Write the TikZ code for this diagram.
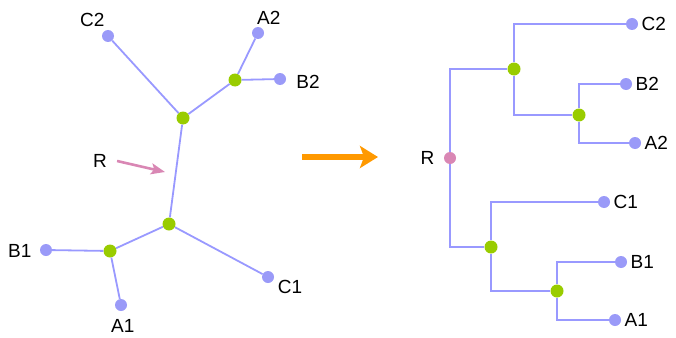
\documentclass[tikz,border=0pt]{standalone}
\usepackage{fontspec}
\setmainfont{Liberation Sans}
\usetikzlibrary{arrows.meta}
\definecolor{edgeblue}{HTML}{9999FF}
\definecolor{leafblue}{HTML}{9A9AF8}
\definecolor{innergreen}{HTML}{99CC00}
\definecolor{rootpink}{HTML}{D987B4}
\definecolor{arroworange}{HTML}{FF9900}
\tikzstyle{vertex}=[circle, inner sep=0pt, minimum size=12pt, label distance=1pt]
\tikzstyle{leaf}=[vertex, fill=leafblue]
\tikzstyle{inner}=[vertex, fill=innergreen, minimum size=13pt]
\tikzstyle{root}=[vertex, fill=rootpink]
\tikzstyle{edge}=[draw=edgeblue, line width=1.8pt]
\tikzstyle{tag}=[anchor=center, inner sep=0pt]

\begin{document}
\begin{tikzpicture}[x=1pt, y=-1pt, font=\fontsize{19}{22}\selectfont]
        \useasboundingbox (0, 0) rectangle (676, 337);
        % unrooted tree
        \node[inner]                        (u1) at (183, 118) {};
        \node[inner]                        (u2) at (235, 80) {};
        \node[inner]                        (l1) at (169, 224) {};
        \node[inner]                        (l2) at (110, 251) {};
        \node[leaf, label={[tag, label distance=16pt]135:C2}] (uC2) at (108, 36) {};
        \node[leaf, label={[tag, label distance=12pt]54:A2}]  (uA2) at (258, 33) {};
        \node[leaf, label={[tag, label distance=22pt]-6:B2}]  (uB2) at (280, 79) {};
        \node[leaf, label={[tag, label distance=20pt]182:B1}] (uB1) at (46, 250) {};
        \node[leaf, label={[tag, label distance=15pt]-85:A1}] (uA1) at (121, 305) {};
        \node[leaf, label={[tag, label distance=18pt]-24:C1}] (uC1) at (268, 277) {};
        \node[tag]                          (uR) at (100, 161) {R};
        \coordinate                         (uRtip) at (165, 172);
        \draw[edge] (uC2) -- (u1) -- (u2) -- (uA2);
        \draw[edge] (u2) -- (uB2);
        \draw[edge] (u1) -- (l1) -- (l2) -- (uB1);
        \draw[edge] (l2) -- (uA1);
        \draw[edge] (l1) -- (uC1);
        \draw[rootpink, line width=2.6pt, -{Stealth[length=14pt, width=11pt, inset=3pt]}]
            (uR.east) ++(10, 0) -- (uRtip);
        % arrow between
        \coordinate (from) at (302, 157);
        \coordinate (to) at (378, 157);
        \draw[arroworange, line width=6pt, -{Stealth[length=18pt, width=22pt, inset=4pt]}] (from) -- (to);
        % rooted tree
        \node[root, label={[label distance=6pt]left:R}] (R) at (450, 158) {};
        \node[inner]                        (r1) at (514, 69) {};
        \node[inner]                        (r2) at (579, 115) {};
        \node[inner]                        (s1) at (491, 247) {};
        \node[inner]                        (s2) at (557, 291) {};
        \node[leaf, label=right:C2]         (C2) at (632, 24) {};
        \node[leaf, label=right:B2]         (B2) at (626, 84) {};
        \node[leaf, label=right:A2]         (A2) at (635, 143) {};
        \node[leaf, label=right:C1]         (C1) at (604, 202) {};
        \node[leaf, label=right:B1]         (B1) at (621, 262) {};
        \node[leaf, label=right:A1]         (A1) at (615, 320) {};
        \draw[edge] (R) |- (r1);
        \draw[edge] (R) |- (s1);
        \draw[edge] (r1) |- (C2);
        \draw[edge] (r1) |- (r2);
        \draw[edge] (r2) |- (B2);
        \draw[edge] (r2) |- (A2);
        \draw[edge] (s1) |- (C1);
        \draw[edge] (s1) |- (s2);
        \draw[edge] (s2) |- (B1);
        \draw[edge] (s2) |- (A1);
    \end{tikzpicture}
\end{document}
